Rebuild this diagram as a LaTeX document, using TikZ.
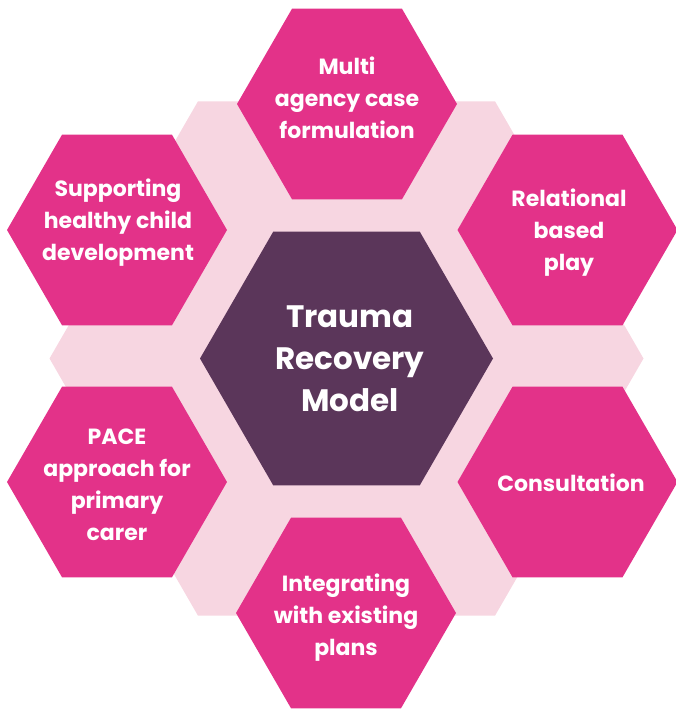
\documentclass[tikz,border=0pt]{standalone}
\usepackage{fontspec}
\setmainfont{Poppins}
\usetikzlibrary{shapes.geometric}
\definecolor{hexpink}{RGB}{227,50,137}
\definecolor{bandpink}{RGB}{247,214,225}
\definecolor{hexplum}{RGB}{91,54,90}
\tikzset{
  hex/.style={regular polygon, regular polygon sides=6, inner sep=0pt, outer sep=0pt},
  outerhex/.style={hex, fill=hexpink, minimum size=220pt},
  hextext/.style={text=white, align=center, inner sep=0pt,
    font=\bfseries\fontsize{22}{32}\selectfont},
}
\begin{document}
\begin{tikzpicture}[x=1pt,y=-1pt]
  \useasboundingbox (0,0) rectangle (675,709);
  % light band behind everything
  \node[hex, fill=bandpink, minimum size=594pt] (band) at (346.5,358.5) {};
  \node[hex, fill=hexplum, minimum size=293pt] (mid) at (346.5,358.5) {};
  % six outer cells
  \node[outerhex] (top) at (347,104) {};
  \node[outerhex] (upright) at (567.5,230) {};
  \node[outerhex] (lowright) at (567.5,482) {};
  \node[outerhex] (bottom) at (346,613) {};
  \node[outerhex] (lowleft) at (117,482) {};
  \node[outerhex] (upleft) at (117,230) {};
  % labels
  \node[hextext, font=\bfseries\fontsize{31}{42}\selectfont] (midtext) at (350,359) {Trauma\\Recovery\\Model};
  \node[hextext] (toptext) at (347,98) {Multi\\agency case\\formulation};
  \node[hextext] (uprighttext) at (569,233) {Relational\\based\\play};
  \node[hextext] (lowrighttext) at (571,483) {Consultation};
  \node[hextext] (bottomtext) at (346,618) {Integrating\\with existing\\plans};
  \node[hextext] (lowlefttext) at (117,485) {PACE\\approach for\\primary\\carer};
  \node[hextext] (uplefttext) at (118,223) {Supporting\\healthy child\\development};
\end{tikzpicture}
\end{document}
